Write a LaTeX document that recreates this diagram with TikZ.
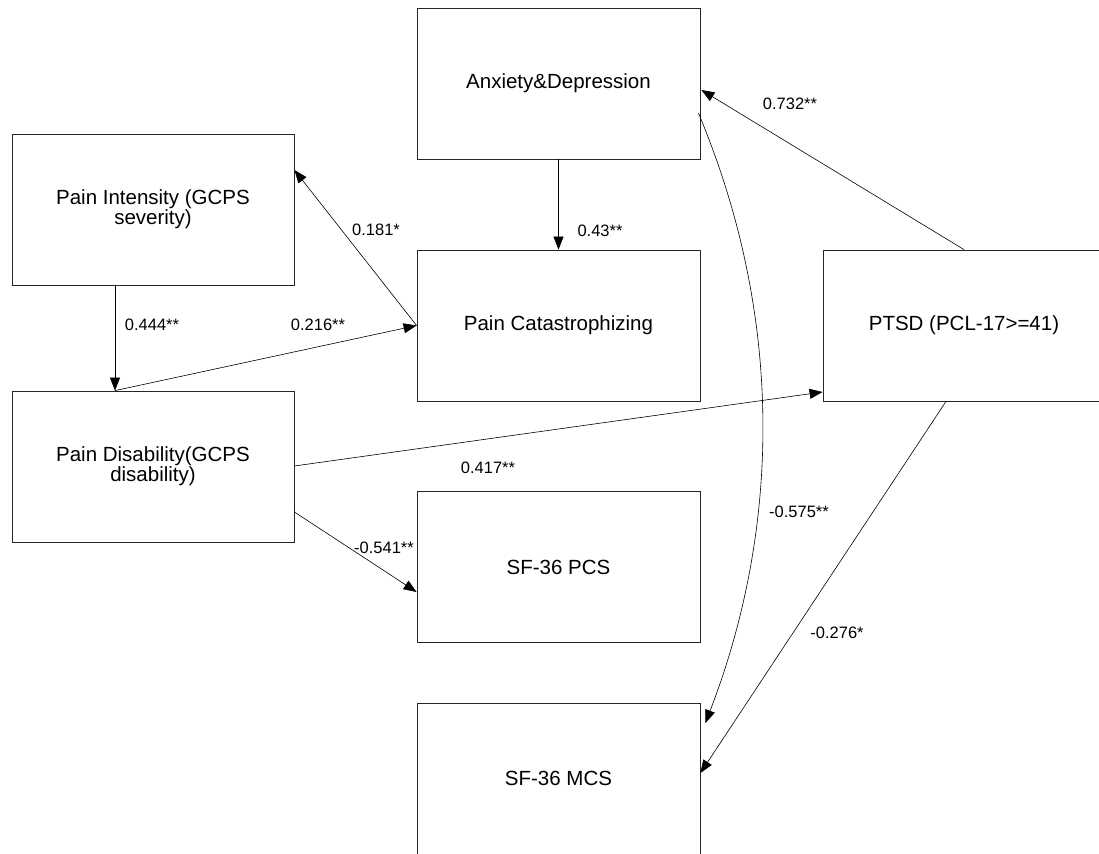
\documentclass[tikz,border=0pt]{standalone}
\usepackage{fontspec}
\setmainfont{Liberation Sans}
\usetikzlibrary{calc,arrows.meta}
\tikzset{
  varbox/.style={draw=black!85, line width=0.8pt, minimum width=283pt, minimum height=151pt,
    inner sep=0pt, align=center, font=\fontsize{20.5}{20}\selectfont},
  conn/.style={line width=0.6pt, -{Triangle[length=13pt,width=10pt]}},
  coef/.style={inner sep=0pt, font=\fontsize{16.5}{18}\selectfont}
}
\begin{document}
\begin{tikzpicture}[x=1pt,y=-1pt]
\useasboundingbox (0,0) rectangle (1099,853);
\clip (0,0) rectangle (1099,853);
% boxes
\node[varbox] (AD) at (558.5,83.5) {Anxiety\&Depression};
\node[varbox, minimum width=282pt] (PI) at (153,209.5) {Pain Intensity (GCPS\\severity)};
\node[varbox] (PC) at (558.5,325.5) {Pain Catastrophizing};
\node[varbox, minimum width=282pt] (PTSD) at (964,325.5) {PTSD (PCL-17>=41)};
\node[varbox, minimum width=282pt] (PD) at (153,466.5) {Pain Disability(GCPS\\disability)};
\node[varbox] (PCS) at (558.5,567) {SF-36 PCS};
\node[varbox] (MCS) at (558.5,778.5) {SF-36 MCS};
% connectors
\draw[conn] ($(PI.south)+(-38,0)$) -- ($(PD.north)+(-38,0)$);
\draw[conn] ($(PD.north)+(-38,0)$) -- (PC.west);
\draw[conn] (PC.west) -- ($(PI.east)+(0,-39.5)$);
\draw[conn] (AD.south) -- (PC.north);
\draw[conn] (PTSD.north) -- ($(AD.east)+(1,6.5)$);
\draw[conn] ($(PD.east)+(0,-0.5)$) -- ($(PTSD.west)+(0,66.5)$);
\draw[conn] ($(PD.east)+(0,45.5)$) -- ($(PCS.west)+(0,25)$);
\draw[conn] ($(AD.east)+(-2,29.5)$) .. controls ($(AD.east)+(82,229.5)$) and ($(MCS.east)+(82,-255.5)$) .. ($(MCS.east)+(5,-55.5)$);
\draw[conn] ($(PTSD.south)+(-18,0)$) -- ($(MCS.east)+(0,-5.5)$);
% coefficients
\node[coef] (c1) at (152,325) {0.444**};
\node[coef] (c2) at (318,325) {0.216**};
\node[coef] (c3) at (376,230) {0.181*};
\node[coef] (c4) at (600,231) {0.43**};
\node[coef] (c5) at (790,104) {0.732**};
\node[coef] (c6) at (488,468) {0.417**};
\node[coef] (c7) at (384,548) {-0.541**};
\node[coef] (c8) at (799,512) {-0.575**};
\node[coef] (c9) at (837,633) {-0.276*};
\end{tikzpicture}
\end{document}
